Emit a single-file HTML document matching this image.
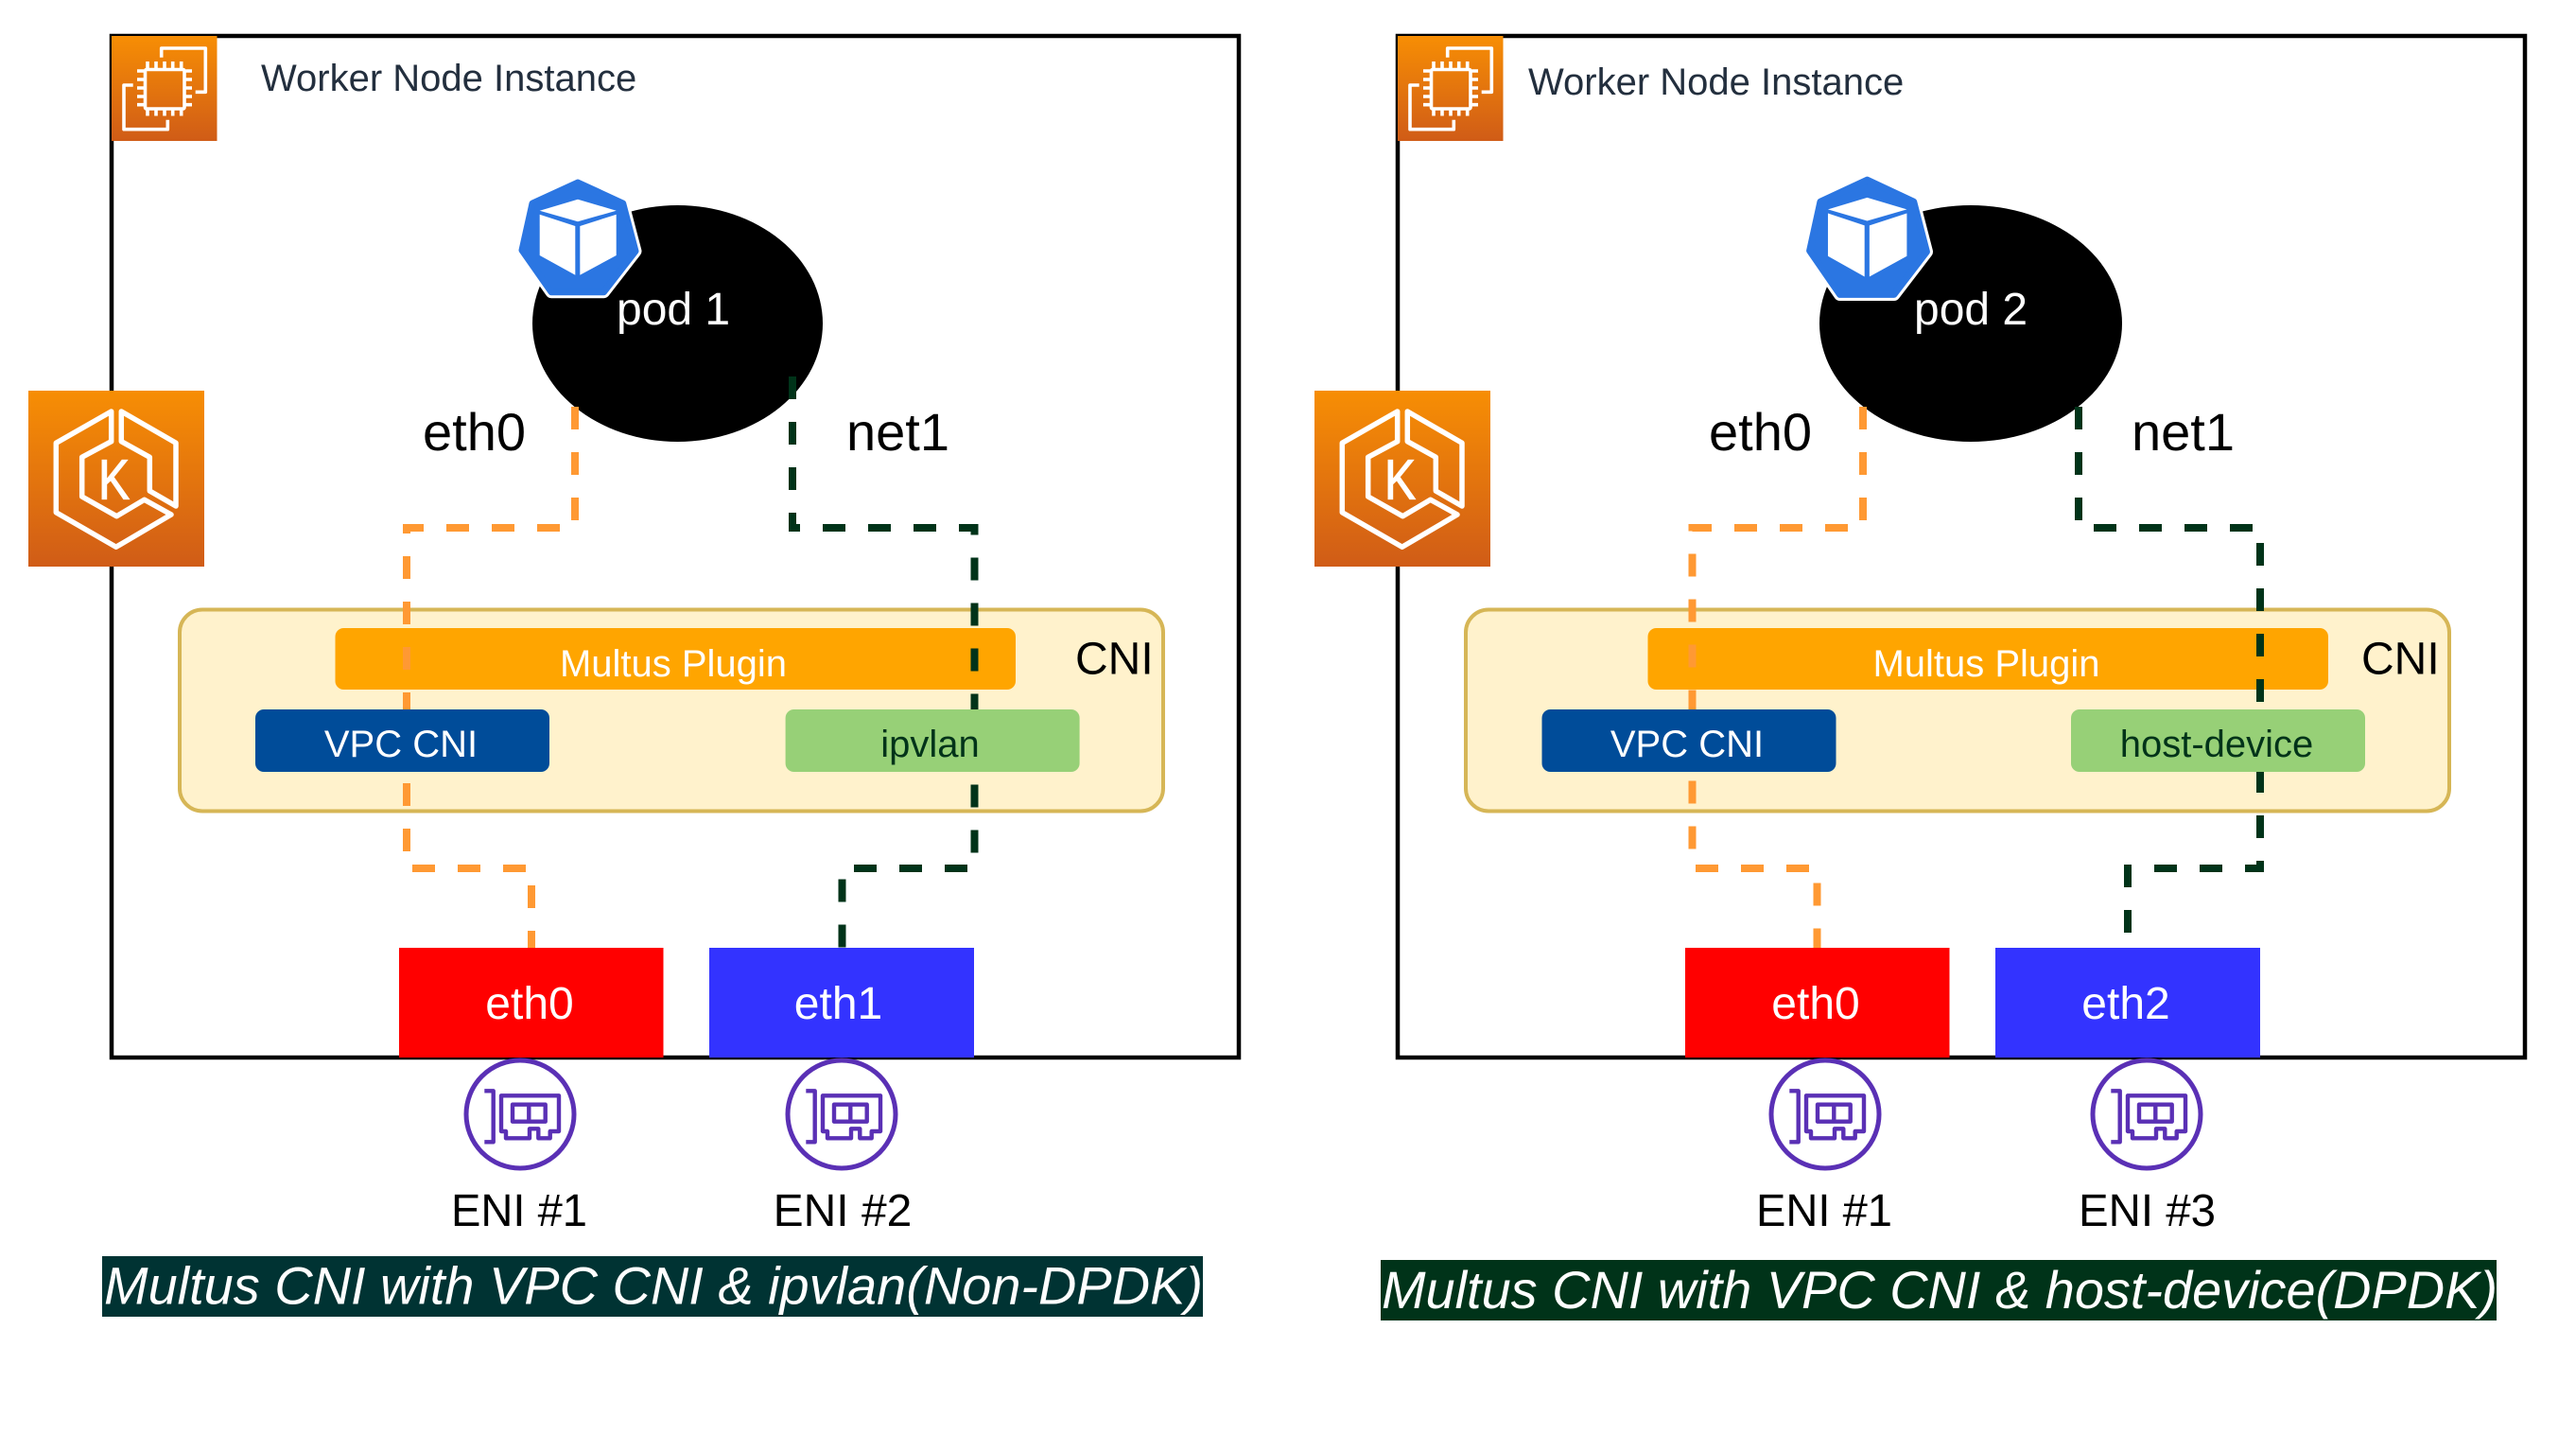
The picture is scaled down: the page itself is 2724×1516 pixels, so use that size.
<!DOCTYPE html>
<html>
<head>
<meta charset="utf-8">
<title>Multus CNI diagram</title>
<style>
html,body{margin:0;padding:0;background:#fff;width:2724px;height:1516px;overflow:hidden}
svg{display:block}
text{font-family:"Liberation Sans",Arial,sans-serif}
</style>
</head>
<body>
<svg xmlns="http://www.w3.org/2000/svg" width="2724" height="1516" viewBox="0 0 2724 1516">
<defs>
<linearGradient id="aws" x1="0" y1="0" x2="0" y2="1">
<stop offset="0" stop-color="#f78e04"/>
<stop offset="1" stop-color="#d05c17"/>
</linearGradient>
<g id="ec2">
<rect x="118" y="38" width="111.5" height="111" fill="url(#aws)"/>
<g fill="none" stroke="#fff" stroke-width="3.6" stroke-linejoin="round">
<rect x="153.5" y="73.5" width="41.5" height="41.5" rx="1.5"/>
<path d="M170.7 60.7V51H217.3V97.3H206.7"/>
<path d="M140.7 90H131V136.7H177.3V126.7"/>
<path d="M156 65V72M165 65V72M174 65V72M182.7 65V72M191.7 65V72"/>
<path d="M156 116.5V122.5M165 116.5V122.5M174 116.5V122.5M182.7 116.5V122.5M191.7 116.5V122.5"/>
<path d="M145 75H152M145 84H152M145 93H152M145 102H152M145 110.7H152"/>
<path d="M196.5 75H203M196.5 84H203M196.5 93H203M196.5 102H203M196.5 110.7H203"/>
</g>
</g>
<g id="eks">
<rect x="30" y="413" width="186" height="186" fill="url(#aws)"/>
<g fill="none" stroke="#fff" stroke-width="5.5" stroke-linejoin="round">
<path d="M117.7 435L59.3 468.3V541.7L122.7 578.3L181 544L152.7 528.3L123.3 545.7L86.7 525V483.3L117.7 466.7Z"/>
<path d="M128.3 435L186 468.3V535L158.3 519V483.3L128.3 466.7Z"/>
</g>
<text x="104" y="527.5" font-size="59" fill="#fff" stroke="#fff" stroke-width="1.2" textLength="33" lengthAdjust="spacingAndGlyphs">K</text>
</g>
<g id="kube">
<polygon points="611,193 658.7,215 672,265.5 638.5,308.7 583,308.7 552,264.5 563,215" fill="#fff" stroke="#fff" stroke-width="13" stroke-linejoin="round"/>
<polygon points="611,193 658.7,215 672,265.5 638.5,308.7 583,308.7 552,264.5 563,215" fill="#2b76e2" stroke="#2b76e2" stroke-width="7" stroke-linejoin="round"/>
<g fill="#fff">
<polygon points="611,210.7 651.7,222.7 611,234.3 570.7,222.7"/>
<polygon points="570.7,226.7 608.3,239 608.3,290.7 570.7,270"/>
<polygon points="613.3,239 651.7,226.7 651.7,270 613.3,290.7"/>
</g>
</g>
<g id="eni">
<circle cx="0" cy="0" r="57" fill="#fff" stroke="#5a30b5" stroke-width="5"/>
<g fill="none" stroke="#5a30b5" stroke-width="4.4" stroke-linejoin="round">
<path d="M-37.7 -24.7H-28.3V29.3H-37.7"/>
<path d="M-20 -19.7H41V18H31.7V25.3H19.3V15.3H10V25.3H-15V18H-20Z"/>
<rect x="-8" y="-10.3" width="34.7" height="18"/>
<path d="M9.3 -10.3V7.7"/>
</g>
</g>
</defs>

<!-- LEFT DIAGRAM -->
<rect x="118" y="38" width="1192" height="1080" fill="#fff" stroke="#000" stroke-width="4.5"/>
<use href="#ec2"/>
<text x="276" y="96" font-size="40" fill="#232f3e">Worker Node Instance</text>
<ellipse cx="716.5" cy="342" rx="153.5" ry="125" fill="#000"/>
<use href="#kube"/>
<text x="652" y="343" font-size="48" fill="#fff">pod 1</text>
<text x="447" y="476" font-size="56" fill="#000">eth0</text>
<text x="895" y="476" font-size="56" fill="#000">net1</text>
<use href="#eks"/>
<rect x="190" y="644.5" width="1040" height="213" rx="24" fill="#fff2cc" stroke="#d6b656" stroke-width="4"/>
<rect x="354.5" y="664" width="719.5" height="65" rx="9" fill="#ffa500"/>
<text x="712" y="715" font-size="40" fill="#fff" text-anchor="middle">Multus Plugin</text>
<text x="1137" y="712.5" font-size="48" fill="#000">CNI</text>
<path d="M608 430V558H430V918H562V1002" fill="none" stroke="#ff9933" stroke-width="8" stroke-dasharray="24 24"/>
<path d="M838 398V558H1030.5V918H890.5V1002" fill="none" stroke="#003319" stroke-width="8" stroke-dasharray="24 24"/>
<rect x="270" y="750" width="311" height="66" rx="9" fill="#004c99"/>
<text x="424" y="800" font-size="40" fill="#fff" text-anchor="middle">VPC CNI</text>
<rect x="830.6" y="750" width="311" height="66" rx="9" fill="#97d077"/>
<text x="983.5" y="800" font-size="40" fill="#003319" text-anchor="middle">ipvlan</text>
<rect x="422" y="1002" width="279.5" height="116" fill="#ff0000"/>
<text x="560" y="1077" font-size="48" fill="#fff" text-anchor="middle">eth0</text>
<rect x="750" y="1002" width="280" height="116" fill="#3333ff"/>
<text x="886.5" y="1077" font-size="48" fill="#fff" text-anchor="middle">eth1</text>
<use href="#eni" x="550" y="1178"/>
<use href="#eni" x="890" y="1178"/>
<text x="549" y="1296" font-size="48" fill="#000" text-anchor="middle" textLength="144" lengthAdjust="spacingAndGlyphs">ENI #1</text>
<text x="891" y="1296" font-size="48" fill="#000" text-anchor="middle">ENI #2</text>
<rect x="108" y="1328" width="1164" height="64" fill="#003333"/>
<text x="110" y="1378.5" font-size="56" font-style="italic" fill="#fff" textLength="1162" lengthAdjust="spacingAndGlyphs">Multus CNI with VPC CNI &amp; ipvlan(Non-DPDK)</text>

<!-- RIGHT DIAGRAM -->
<rect x="1478" y="38" width="1192" height="1080" fill="#fff" stroke="#000" stroke-width="4.5"/>
<use href="#ec2" x="1360"/>
<text x="1616" y="100" font-size="40" fill="#232f3e">Worker Node Instance</text>
<ellipse cx="2084" cy="342" rx="160" ry="125" fill="#000"/>
<g transform="translate(1975.5 252) scale(1.03 1.045) translate(-612 -252)"><use href="#kube"/></g>
<text x="2024" y="343" font-size="48" fill="#fff">pod 2</text>
<text x="1807" y="476" font-size="56" fill="#000">eth0</text>
<text x="2254" y="476" font-size="56" fill="#000">net1</text>
<use href="#eks" x="1360"/>
<rect x="1550" y="644.5" width="1040" height="213" rx="24" fill="#fff2cc" stroke="#d6b656" stroke-width="4"/>
<rect x="1742.5" y="664" width="719.5" height="65" rx="9" fill="#ffa500"/>
<text x="2100.5" y="715" font-size="40" fill="#fff" text-anchor="middle">Multus Plugin</text>
<text x="2497" y="712.5" font-size="48" fill="#000">CNI</text>
<path d="M1970 430V558H1789.5V918H1921.5V1002" fill="none" stroke="#ff9933" stroke-width="8" stroke-dasharray="24 24"/>
<path d="M2198 430V558H2390V918H2250V1002" fill="none" stroke="#003319" stroke-width="8" stroke-dasharray="24 24"/>
<rect x="1630.5" y="750" width="311" height="66" rx="9" fill="#004c99"/>
<text x="1784" y="800" font-size="40" fill="#fff" text-anchor="middle">VPC CNI</text>
<rect x="2190" y="750" width="311" height="66" rx="9" fill="#97d077"/>
<text x="2344" y="800" font-size="40" fill="#003319" text-anchor="middle">host-device</text>
<rect x="1782" y="1002" width="279.5" height="116" fill="#ff0000"/>
<text x="1920" y="1077" font-size="48" fill="#fff" text-anchor="middle">eth0</text>
<rect x="2110" y="1002" width="280" height="116" fill="#3333ff"/>
<text x="2248" y="1077" font-size="48" fill="#fff" text-anchor="middle">eth2</text>
<use href="#eni" x="1930" y="1178"/>
<use href="#eni" x="2270" y="1178"/>
<text x="1929" y="1296" font-size="48" fill="#000" text-anchor="middle" textLength="144" lengthAdjust="spacingAndGlyphs">ENI #1</text>
<text x="2270.5" y="1296" font-size="48" fill="#000" text-anchor="middle" textLength="145" lengthAdjust="spacingAndGlyphs">ENI #3</text>
<rect x="1460" y="1332" width="1180" height="64" fill="#003319"/>
<text x="1461" y="1383" font-size="56" font-style="italic" fill="#fff" textLength="1180" lengthAdjust="spacingAndGlyphs">Multus CNI with VPC CNI &amp; host-device(DPDK)</text>
</svg>
</body>
</html>
